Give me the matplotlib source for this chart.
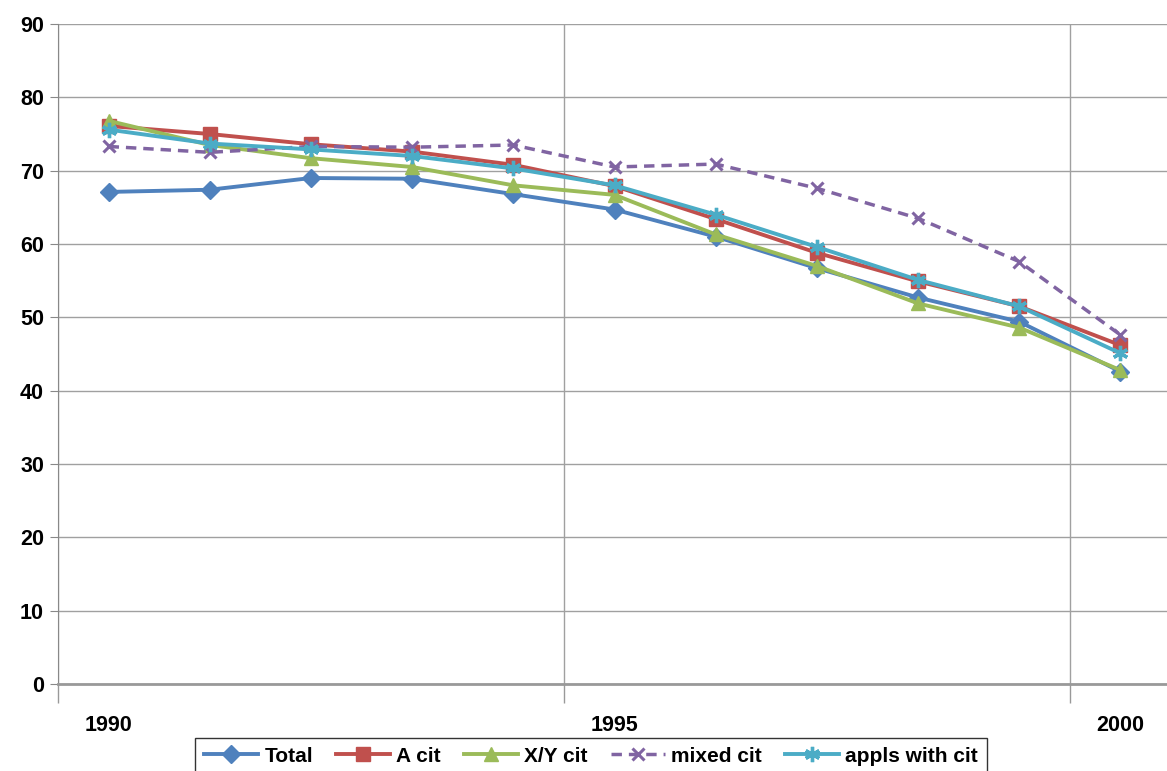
import numpy as np
import matplotlib
matplotlib.use("Agg")
import matplotlib.pyplot as plt

years = [1990, 1991, 1992, 1993, 1994, 1995, 1996, 1997, 1998, 1999, 2000]
total = [67.1, 67.4, 69.0, 68.9, 66.8, 64.7, 61.0, 56.7, 52.7, 49.4, 42.6]
a_cit = [76.1, 75.0, 73.6, 72.6, 70.8, 67.9, 63.4, 58.8, 54.9, 51.5, 46.2]
xy_cit = [76.8, 73.5, 71.7, 70.5, 68.0, 66.7, 61.3, 57.0, 51.9, 48.6, 42.8]
mixed_cit = [73.3, 72.5, 73.3, 73.2, 73.5, 70.5, 70.9, 67.6, 63.5, 57.6, 47.6]
appls_cit = [75.6, 73.7, 72.9, 72.0, 70.3, 68.0, 64.0, 59.6, 55.1, 51.5, 45.1]
year_labels = ["1990", "1995", "2000"]

plt.rcParams['font.family'] = ['Liberation Sans', 'DejaVu Sans']
plt.rcParams['font.weight'] = 'bold'

fig = plt.figure(figsize=(11.67, 7.71), dpi=100)
ax = fig.add_axes([58 / 1167, 87 / 771, 1 - 58 / 1167, (684 - 24) / 771])

x = np.arange(len(years))

ax.plot(x, total, color='#4F81BD', lw=2.8, marker='D', ms=9, label='Total', zorder=3)
ax.plot(x, a_cit, color='#C0504D', lw=2.8, marker='s', ms=10, label='A cit', zorder=3)
ax.plot(x, xy_cit, color='#9BBB59', lw=2.8, marker='^', ms=10, label='X/Y cit', zorder=3)
ax.plot(x, mixed_cit, color='#8064A2', lw=2.5, ls=(0, (3, 2)), marker='x', ms=9, mew=2.2,
        label='mixed cit', zorder=3)
ax.plot(x, appls_cit, color='#4BACC6', lw=2.8, marker=(6, 2, 0), ms=11, mew=2.4,
        label='appls with cit', zorder=4)

# axes and grid
ax.set_ylim(0, 90)
ax.set_yticks(range(0, 91, 10))
ax.set_xlim(-0.5, 10.46)
ax.set_xticks([-0.5, 4.5, 9.5])
ax.set_xticklabels([])
ax.set_xticks([0, 5, 10], minor=True)
ax.set_xticklabels(year_labels, minor=True)
ax.tick_params(axis='x', which='major', length=14, color='#999999', width=1)
ax.tick_params(axis='x', which='minor', length=0, pad=22, labelsize=15.5)
ax.tick_params(axis='y', length=6, color='#888888', labelsize=15.5, pad=4)
for lab in ax.get_xticklabels(minor=True) + ax.get_yticklabels():
    lab.set_fontweight('bold')

ax.grid(axis='y', color='#A0A0A0', lw=1)
ax.grid(axis='x', which='major', color='#A0A0A0', lw=1)
ax.set_axisbelow(True)
for s in ['top', 'right']:
    ax.spines[s].set_visible(False)
ax.spines['left'].set_color('#888888')
ax.spines['bottom'].set_color('#999999')
ax.spines['bottom'].set_linewidth(2)

leg = fig.legend(loc='upper center', bbox_to_anchor=(591 / 1167, 1 - 738 / 771), ncol=5,
                 frameon=True, fancybox=False, edgecolor='black', fontsize=15,
                 handlelength=2.6, handletextpad=0.3, columnspacing=1.1, borderpad=0.42,
                 borderaxespad=0)
leg.get_frame().set_linewidth(1)
for t in leg.get_texts():
    t.set_fontweight('bold')

fig.savefig('out.png', dpi=100)
